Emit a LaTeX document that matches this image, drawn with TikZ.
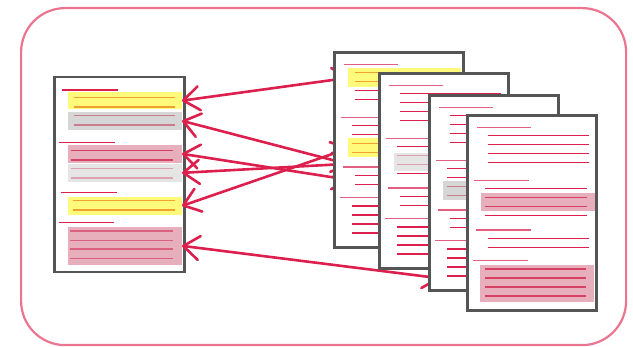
\documentclass[tikz,border=0pt]{standalone}
\usetikzlibrary{arrows.meta}

\definecolor{framepink}{HTML}{EB7590}
\definecolor{pagegray}{HTML}{555555}
\definecolor{crim}{HTML}{DC1F4C}
\definecolor{linepink}{HTML}{E35F82}
\definecolor{hiyellow}{RGB}{255,248,33}
\definecolor{higray}{RGB}{187,187,187}
\definecolor{hilight}{RGB}{219,219,219}
\definecolor{hipink}{RGB}{209,97,123}

\tikzset{
  frame/.style={draw=framepink, line width=2.2pt, rounded corners=44pt,
    minimum width=605pt, minimum height=337pt, inner sep=0pt, anchor=north west},
  page/.style={draw=pagegray, line width=2.6pt, fill=white,
    minimum width=129pt, minimum height=195pt, inner sep=0pt, outer sep=0pt,
    anchor=north west},
  hd/.style={draw=linepink, line width=1.4pt},
  ln/.style={draw=crim, line width=1.4pt},
  hlbox/.style={inner sep=0pt, outer sep=0pt, anchor=north west, minimum width=114pt},
  hly/.style={hlbox, fill=hiyellow, fill opacity=0.6},
  hlg/.style={hlbox, fill=higray, fill opacity=0.6},
  hll/.style={hlbox, fill=hilight, fill opacity=0.7},
  hlp/.style={hlbox, fill=hipink, fill opacity=0.5},
  link/.style={draw=crim, line width=2.6pt,
    {Straight Barb[length=16pt,width=24pt,round]}-{Straight Barb[length=16pt,width=24pt,round]}},
}

% standard text block of a source page, placed at its outer corner
\newcommand\pagetext[2]{%
  \begin{scope}[shift={(#1,#2)}]
    \draw[hd] (11,13.5) -- (65,13.5);
    \foreach \yy in {21.5,30.5,39.5,48.5} \draw[ln] (22,\yy) -- (123,\yy);
    \draw[hd] (8,66.5) -- (63,66.5);
    \foreach \yy in {74.5,83.5,92.5,101.5} \draw[ln] (19,\yy) -- (121,\yy);
    \draw[hd] (10,116) -- (65,116);
    \foreach \yy in {124.5,133.5} \draw[ln] (22,\yy) -- (123,\yy);
    \draw[hd] (7,146.5) -- (62,146.5);
    \foreach \yy in {155,164,173,182} \draw[ln] (19,\yy) -- (120,\yy);
  \end{scope}}

\begin{document}
\begin{tikzpicture}[x=1pt,y=-1pt]
  \useasboundingbox (0,0) rectangle (633,347);

  % outer frame
  \node[frame] (fr) at (20,7) {};

  % summary page
  \node[page, minimum width=130pt] (sum) at (54.5,77) {};
  \draw[ln] (62.3,90) -- (117.7,90);
  \foreach \yy in {97.7,107,115.7,125} \draw[ln] (73.7,\yy) -- (175,\yy);
  \draw[ln] (59.3,142.3) -- (115,142.3);
  \foreach \yy in {150.7,160,168.7,178} \draw[ln] (70.5,\yy) -- (172.7,\yy);
  \draw[ln] (61.3,192.3) -- (117,192.3);
  \foreach \yy in {200.7,210} \draw[ln] (72.7,\yy) -- (174.7,\yy);
  \draw[ln] (59,222.7) -- (114,222.7);
  \foreach \yy in {231,240.3,249,258.3} \draw[hd] (70,\yy) -- (172.7,\yy);
  \node[hly, minimum height=17.3pt] (s1) at (68,92) {};
  \node[hlg, minimum height=17.7pt] (s2) at (68,112) {};
  \node[hlp, minimum height=17.7pt] (s3) at (68,145) {};
  \node[hll, minimum height=17.7pt] (s4) at (68,164) {};
  \node[hly, minimum height=17.7pt] (s5) at (68,197) {};
  \node[hlp, minimum height=37.7pt] (s6) at (68,227) {};

  % far ends of the links, inside the source pages
  \coordinate (t1) at (350,77.6);
  \coordinate (t2) at (350,164.6);
  \coordinate (t3) at (350,180);
  \coordinate (t4) at (350,163.7);
  \coordinate (t5) at (350,147.9);
  \coordinate (t6) at (440,278.3);

  \draw[link] (s1.east) -- (t1);
  \draw[link] (s2.east) -- (t2);
  \draw[link] (s3.east) -- (t3);
  \draw[link] (s4.east) -- (t4);
  \draw[link] (s5.east) -- (t5);
  \draw[link] (s6.east) -- (t6);

  % source page A
  \node[page] (pa) at (334.3,52.3) {};
  \pagetext{333}{51}
  \fill[hiyellow, fill opacity=0.6] (348,68.5) rectangle (461,87);
  \fill[hiyellow, fill opacity=0.6] (348,138.5) rectangle (461,157);

  % source page B
  \node[page] (pb) at (379.5,73.5) {};
  \pagetext{378.2}{72.2}
  \fill[hilight, fill opacity=0.7] (394,153) rectangle (506,170.7);

  % source page C
  \node[page] (pc) at (429.5,95.3) {};
  \pagetext{428.2}{94}
  \fill[higray, fill opacity=0.6] (443,181.3) rectangle (556,199.7);

  % source page D
  \node[page] (pd) at (467.3,115.3) {};
  \pagetext{466}{114}
  \fill[hipink, fill opacity=0.5] (481,193) rectangle (594.7,210.7);
  \fill[hipink, fill opacity=0.5] (480,265) rectangle (593.7,302.3);
\end{tikzpicture}
\end{document}
